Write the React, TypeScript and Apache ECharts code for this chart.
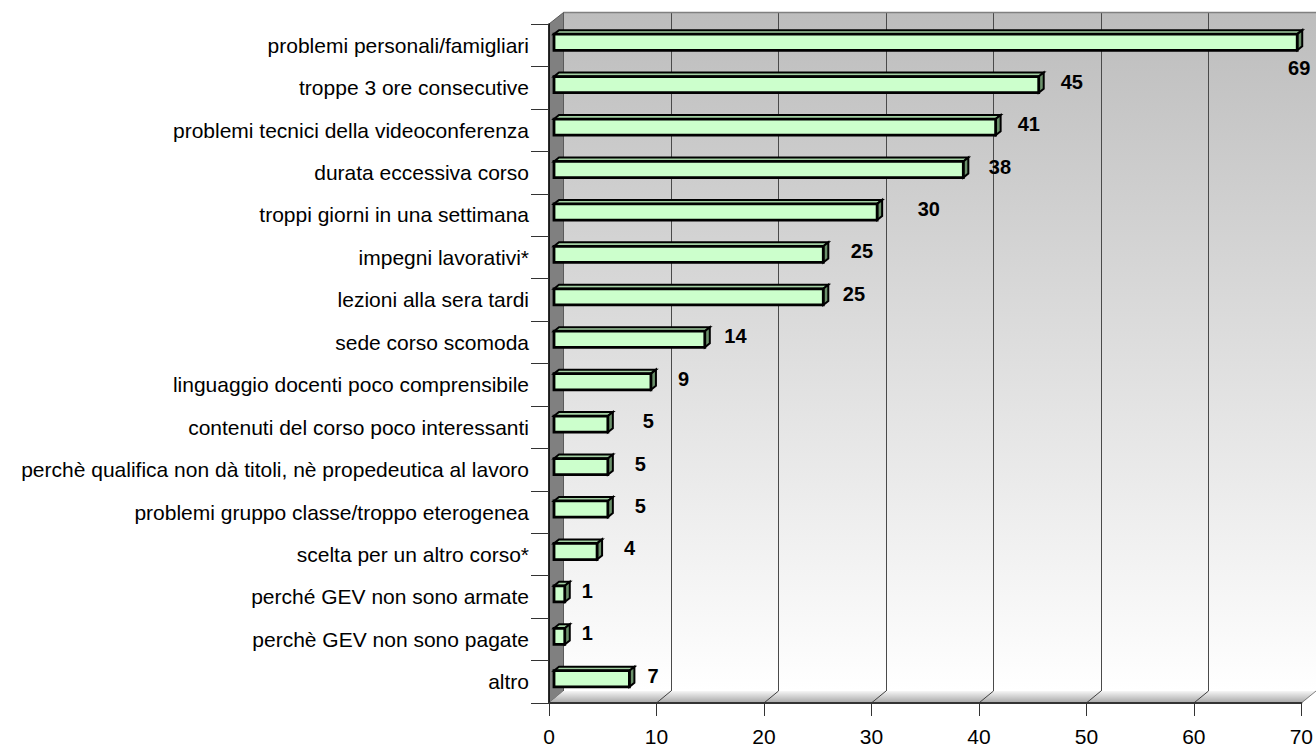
import React, { useEffect, useRef } from "react";
import * as echarts from "echarts";

// ---------------- DATA ----------------
const categories: string[] = [
  "problemi personali/famigliari",
  "troppe 3 ore consecutive",
  "problemi tecnici della videoconferenza",
  "durata eccessiva corso",
  "troppi giorni in una settimana",
  "impegni lavorativi*",
  "lezioni alla sera tardi",
  "sede corso scomoda",
  "linguaggio docenti poco comprensibile",
  "contenuti del corso poco interessanti",
  "perchè qualifica non dà titoli, nè propedeutica al lavoro",
  "problemi gruppo classe/troppo eterogenea",
  "scelta per un altro corso*",
  "perché GEV non sono armate",
  "perchè GEV non sono pagate",
  "altro",
];
const values: number[] = [69, 45, 41, 38, 30, 25, 25, 14, 9, 5, 5, 5, 4, 1, 1, 7];
const axisMin = 0;
const axisMax = 70;
const axisStep = 10;

// ---------------- LAYOUT (styling only) ----------------
const W = 1316;
const H = 747;
const FRONT = { l: 549, r: 1302, t: 24, b: 703 };
const BACK = { l: 563.5, r: 1316, t: 12.5, b: 691 };
const BARS = { l: 554, r: 1308, t: 21, b: 700 };
const labelNudgeX: number[] = [0, 0, 0, 3.5, 18.5, 5.5, -2.5, -2.5, 5, 13, 5, 5, 5, -5, -5, -4];
const FONT = "'Liberation Sans', Arial, Helvetica, sans-serif";

export default function App() {
  const ref = useRef<HTMLDivElement>(null);

  useEffect(() => {
    if (!ref.current) return;
    const chart = echarts.init(ref.current, null, { renderer: "svg" });

    const barData = values.map((v, i) => [v, i]);

    const renderItem = (params: any, api: any) => {
      const v = api.value(0);
      const cat = api.value(1);
      const p0 = api.coord([0, cat]);
      const p1 = api.coord([v, cat]);
      const band = api.size([0, 1])[1];
      const h = band * 0.38;
      const x0 = p0[0];
      const x1 = p1[0];
      const yc = p0[1];
      const yt = yc - h / 2;
      const yb = yc + h / 2;
      const dx = 5;
      const dy = 4;
      const idx = params.dataIndex;
      const txt = String(v);
      let lx: number;
      let ly: number;
      let align = "left";
      if (x1 + 22 + 30 > W) {
        lx = x1 + 2;
        ly = yb + 18;
        align = "center";
      } else {
        lx = x1 + 22 + (labelNudgeX[idx] || 0);
        ly = yc - 3;
      }
      return {
        type: "group",
        children: [
          {
            type: "polygon",
            shape: { points: [[x0, yt], [x0 + dx, yt - dy], [x1 + dx, yt - dy], [x1, yt]] },
            style: { fill: "#a3d1a3", stroke: "#000", lineWidth: 2 },
          },
          {
            type: "polygon",
            shape: { points: [[x1, yt], [x1 + dx, yt - dy], [x1 + dx, yb - dy], [x1, yb]] },
            style: { fill: "#6b916b", stroke: "#000", lineWidth: 2 },
          },
          {
            type: "rect",
            shape: { x: x0, y: yt, width: x1 - x0, height: h },
            style: { fill: "#ccffcc", stroke: "#000", lineWidth: 2.8 },
          },
          {
            type: "text",
            x: lx,
            y: ly,
            style: {
              text: txt,
              fill: "#000",
              font: `bold 20px ${FONT}`,
              align,
              verticalAlign: "middle",
            },
          },
        ],
      };
    };

    chart.setOption({
      animation: false,
      backgroundColor: "#ffffff",
      grid: [
        { left: FRONT.l, right: W - FRONT.r, top: FRONT.t, bottom: H - FRONT.b },
        { left: BACK.l, right: W - BACK.r, top: BACK.t, bottom: H - BACK.b },
        { left: BARS.l, right: W - BARS.r, top: BARS.t, bottom: H - BARS.b },
      ],
      xAxis: [
        {
          type: "value",
          gridIndex: 0,
          min: axisMin,
          max: axisMax,
          interval: axisStep,
          z: 3,
          axisLine: { show: true, lineStyle: { color: "#333", width: 2 } },
          axisTick: { show: true, length: 13, lineStyle: { color: "#333", width: 1 } },
          axisLabel: { margin: 23, fontSize: 21, color: "#000", fontFamily: FONT },
          splitLine: { show: false },
        },
        {
          type: "value",
          gridIndex: 1,
          min: axisMin,
          max: axisMax,
          interval: axisStep,
          z: 1,
          axisLine: { show: false },
          axisTick: { show: false },
          axisLabel: { show: false },
          splitLine: { show: true, lineStyle: { color: "#4a4a4a", width: 1 } },
        },
        { type: "value", gridIndex: 2, min: axisMin, max: axisMax, show: false },
      ],
      yAxis: [
        {
          type: "category",
          gridIndex: 0,
          data: categories,
          inverse: true,
          z: 3,
          axisLine: { show: true, lineStyle: { color: "#000", width: 1.5 } },
          axisTick: { show: true, length: 18, lineStyle: { color: "#333", width: 1 } },
          axisLabel: { interval: 0, margin: 20, fontSize: 21, color: "#000", fontFamily: FONT },
          splitLine: { show: false },
        },
        { type: "value", gridIndex: 1, show: false, splitLine: { show: false } },
        { type: "category", gridIndex: 2, data: categories, inverse: true, show: false },
      ],
      series: [
        {
          type: "custom",
          xAxisIndex: 2,
          yAxisIndex: 2,
          data: barData,
          encode: { x: 0, y: 1 },
          renderItem,
          z: 5,
          silent: true,
        },
      ],
    });

    // decorations: walls and floor of the 3D box
    const fx = (v: number) => chart.convertToPixel({ xAxisIndex: 0 }, v) as number;
    const bx = (v: number) => chart.convertToPixel({ xAxisIndex: 1 }, v) as number;
    const floorLines: any[] = [];
    for (let v = axisMin + axisStep; v <= axisMax; v += axisStep) {
      floorLines.push({
        type: "line",
        z: 2,
        shape: { x1: fx(v), y1: FRONT.b, x2: bx(v), y2: BACK.b },
        style: { stroke: v === axisMax ? "#808080" : "#404040", lineWidth: 1 },
      });
    }
    chart.setOption({
      graphic: [
        {
          type: "rect",
          z: 0,
          shape: { x: BACK.l, y: BACK.t, width: BACK.r - BACK.l, height: BACK.b - BACK.t },
          style: {
            fill: new echarts.graphic.LinearGradient(0, 0, 0, 1, [
              { offset: 0, color: "#bdbdbd" },
              { offset: 1, color: "#ffffff" },
            ]),
          },
        },
        {
          type: "line",
          z: 2,
          shape: { x1: BACK.l, y1: BACK.t, x2: BACK.r, y2: BACK.t },
          style: { stroke: "#808080", lineWidth: 1.5 },
        },
        {
          type: "polygon",
          z: 2,
          shape: { points: [[FRONT.l, FRONT.t], [BACK.l, BACK.t], [BACK.l, BACK.b], [FRONT.l, FRONT.b]] },
          style: { fill: "#808080", stroke: "#5a5a5a", lineWidth: 1 },
        },
        {
          type: "polygon",
          z: 2,
          shape: { points: [[FRONT.l, FRONT.b], [BACK.l, BACK.b], [BACK.r, BACK.b], [FRONT.r, FRONT.b]] },
          style: {
            fill: new echarts.graphic.LinearGradient(0, 0, 0, 1, [
              { offset: 0, color: "#f6f6f6" },
              { offset: 1, color: "#a6a6a6" },
            ]),
          },
        },
        ...floorLines,
      ],
    });

    return () => {
      chart.dispose();
    };
  }, []);

  return (
    <div
      ref={ref}
      style={{ position: "fixed", left: 0, top: 0, width: W, height: H, background: "#fff" }}
    />
  );
}
